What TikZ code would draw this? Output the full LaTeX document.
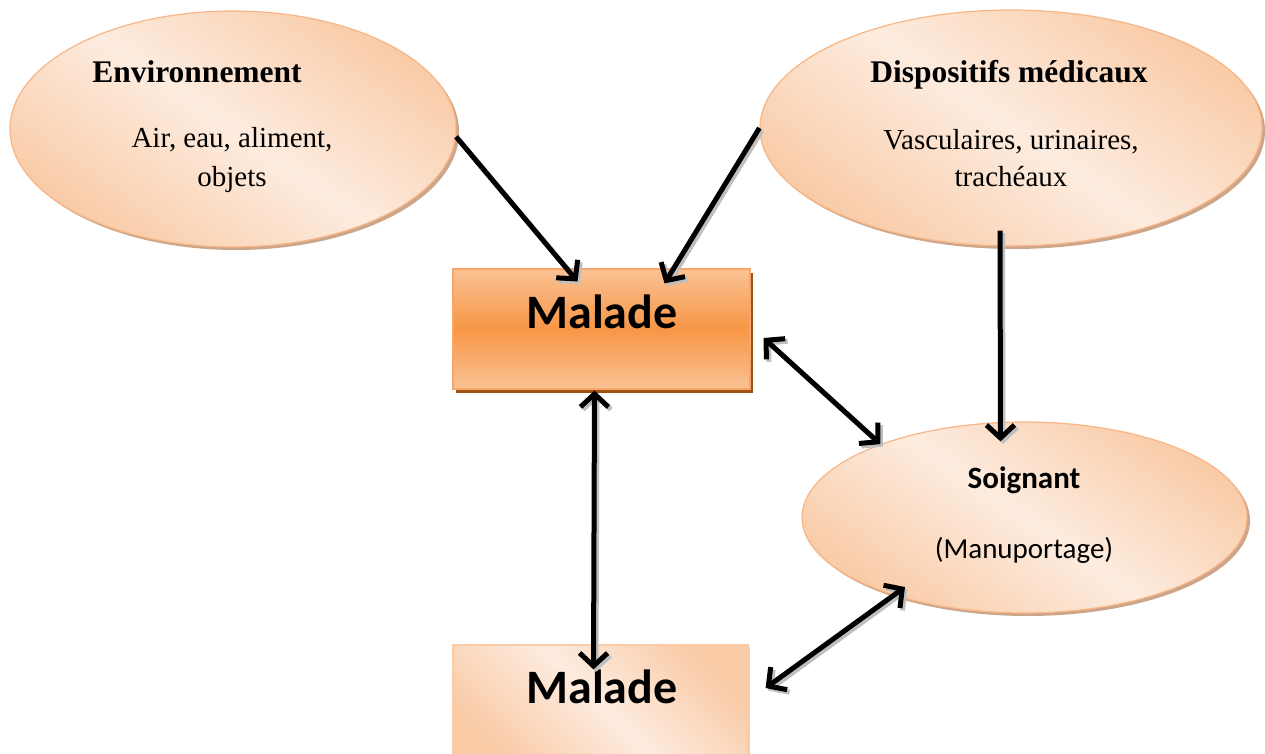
\documentclass[tikz,border=0pt]{standalone}
\usepackage{fontspec}
\setmainfont{Liberation Serif}
\newfontfamily\calib{Carlito}
\usetikzlibrary{shapes.geometric,arrows.meta,calc}
\definecolor{peachD}{HTML}{F9CBA7}
\definecolor{peachL}{HTML}{FDECDF}
\definecolor{peachB}{HTML}{F8B585}
\definecolor{orangeM}{HTML}{F79646}
\definecolor{orangeL}{HTML}{FAC294}
\definecolor{orangeB}{HTML}{F9A468}
\definecolor{brownS}{HTML}{A0520F}
\definecolor{shadowC}{HTML}{CBA68A}
\tikzset{
  bubble/.style={ellipse, draw=peachB, line width=1.2pt, top color=peachD, bottom color=peachD, middle color=peachL, shading angle=-35, inner sep=0pt},
  bubshadow/.style={ellipse, fill=shadowC, inner sep=0pt},
  malbox/.style={rectangle, draw=orangeB, line width=1.2pt, top color=orangeL, bottom color=orangeL, middle color=orangeM, inner sep=0pt, minimum width=297pt, minimum height=120pt},
  malbox2/.style={rectangle, draw=peachD, line width=1.2pt, top color=peachD, bottom color=peachD, middle color=peachL, shading angle=-45, inner sep=0pt, minimum width=295pt, minimum height=120pt},
  titletxt/.style={anchor=base, font=\bfseries\fontsize{31.5}{36}\selectfont},
  bodytxt/.style={anchor=base, font=\fontsize{29}{34}\selectfont},
  maltxt/.style={anchor=base, font=\calib\bfseries\fontsize{48}{54}\selectfont},
  soitxt/.style={anchor=base, font=\calib\bfseries\fontsize{31}{36}\selectfont},
  manutxt/.style={anchor=base, font=\calib\fontsize{29}{34}\selectfont},
  tipv/.tip={Straight Barb[length=13pt,width=28pt]},
  conn/.style={line width=5pt, -tipv, preaction={draw=gray!50, line width=5pt, transform canvas={shift={(2.5pt,-2.5pt)}}}},
  dconn/.style={conn, tipv-tipv}
}
\begin{document}
\begin{tikzpicture}[x=1pt,y=1pt]
\useasboundingbox (0,0) rectangle (1265,753);
\clip (0,0) rectangle (1265,753);
% shadows
\node[bubshadow, minimum width=446pt, minimum height=236pt] (envsh) at (236,621) {};
\node[bubshadow, minimum width=502pt, minimum height=236pt] (dispsh) at (1014,622) {};
\node[bubshadow, minimum width=445pt, minimum height=191pt] (soish) at (1027.5,232.5) {};
\node[rectangle, fill=brownS, inner sep=0pt, minimum width=297pt, minimum height=120pt] (m1sh) at (604.5,420) {};
\node[rectangle, fill=shadowC!50, inner sep=0pt, minimum width=295pt, minimum height=120pt] (m2sh) at (602.5,46) {};
% shapes
\node[bubble, minimum width=446pt, minimum height=236pt] (env) at (233,624) {};
\node[bubble, minimum width=502pt, minimum height=236pt] (disp) at (1011,625) {};
\node[bubble, minimum width=445pt, minimum height=191pt] (soi) at (1024.5,235.5) {};
\node[malbox] (m1) at (601.5,424) {};
\node[malbox2] (m2) at (600.5,48) {};
% texts
\node[titletxt] (envt) at (197,670) {Environnement};
\node[bodytxt] (envb1) at (232,605) {Air, eau, aliment,};
\node[bodytxt] (envb2) at (232,566) {objets};
\node[titletxt] (dispt) at (1009,670) {Dispositifs médicaux};
\node[bodytxt] (dispb1) at (1011,603) {Vasculaires, urinaires,};
\node[bodytxt] (dispb2) at (1011,566) {trachéaux};
\node[maltxt] (m1t) at (602,424) {Malade};
\node[soitxt] (soit) at (1024,265) {Soignant};
\node[manutxt] (soib) at (1024,195) {(Manuportage)};
\node[maltxt] (m2t) at (602,50) {Malade};
% connectors
\draw[conn] (env.-2) -- ($(m1.north)+(-24,-13)$);
\draw[conn] (disp.west) -- ($(m1.north)+(63,-15)$);
\draw[conn] ($(disp.south)+(-11,16)$) -- ($(soi.north)+(-24,-20)$);
\draw[dconn] ($(m1.east)+(13,-9)$) -- (soi.153);
\draw[dconn] ($(m1.south)+(-7,-1)$) -- ($(m2.north)+(-7,-25)$);
\draw[dconn] ($(m2.east)+(17,17)$) -- ($(soi.center)+(-119.5,-69.5)$);
\end{tikzpicture}
\end{document}
